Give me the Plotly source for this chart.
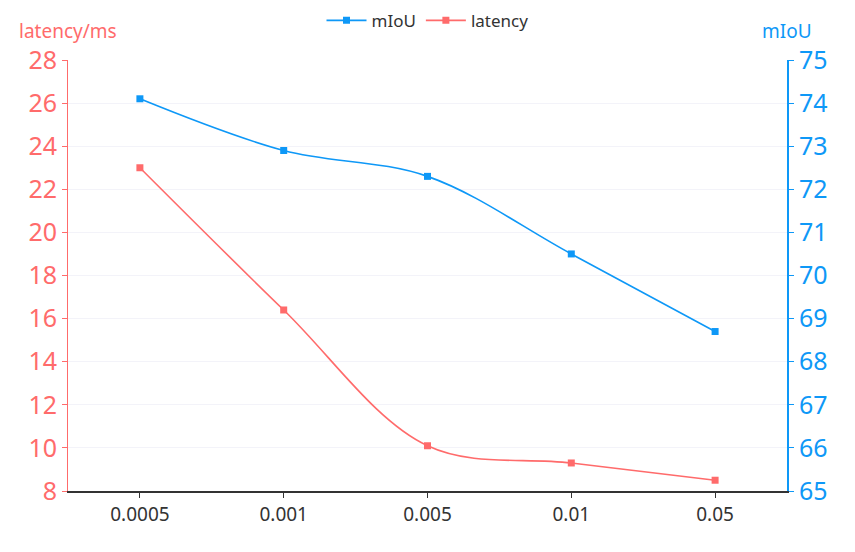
import plotly.graph_objects as go

categories = ["0.0005", "0.001", "0.005", "0.01", "0.05"]
miou = [74.1, 72.9, 72.3, 70.5, 68.7]
latency = [23.0, 16.4, 10.1, 9.3, 8.5]
latency_ticks = [8, 10, 12, 14, 16, 18, 20, 22, 24, 26, 28]
miou_ticks = [65, 66, 67, 68, 69, 70, 71, 72, 73, 74, 75]

BLUE = "#0e98f7"
RED = "#ff6b6b"
FONT = "Noto Sans, Roboto, sans-serif"

fig = go.Figure()
fig.add_trace(go.Scatter(
    x=categories, y=miou, name="mIoU", yaxis="y2",
    mode="lines+markers", line=dict(color=BLUE, width=1.6, shape="spline"),
    marker=dict(symbol="square", size=7, color=BLUE),
))
fig.add_trace(go.Scatter(
    x=categories, y=latency, name="latency", yaxis="y",
    mode="lines+markers", line=dict(color=RED, width=1.6, shape="spline"),
    marker=dict(symbol="square", size=7, color=RED),
))

fig.update_layout(
    width=847, height=544,
    margin=dict(l=60, r=68, t=52, b=61, autoexpand=False),
    paper_bgcolor="white", plot_bgcolor="white",
    font=dict(family=FONT),
    showlegend=True,
    legend=dict(orientation="h", x=0.5, xanchor="center", y=1.091, yanchor="middle",
                yref="paper", font=dict(size=17, color="#333"),
                bgcolor="rgba(0,0,0,0)", itemwidth=40),
    xaxis=dict(
        type="category", range=[-0.5, 4.5],
        showline=True, linecolor="#333", linewidth=2,
        ticks="outside", ticklen=5, tickcolor="#333",
        tickfont=dict(size=19, color="#333"),
        showgrid=False, zeroline=False,
    ),
    yaxis=dict(
        range=[8, 28], tickvals=latency_ticks,
        showline=True, linecolor=RED, linewidth=1,
        ticks="outside", ticklen=5, tickcolor=RED,
        tickfont=dict(size=25, color=RED),
        showgrid=True, gridcolor="#f3f3f9", gridwidth=1, zeroline=False,
    ),
    yaxis2=dict(
        range=[65, 75], tickvals=miou_ticks, overlaying="y", side="right",
        showline=True, linecolor=BLUE, linewidth=2,
        ticks="outside", ticklen=5, tickcolor=BLUE,
        tickfont=dict(size=25, color=BLUE),
        showgrid=False, zeroline=False,
    ),
    annotations=[
        dict(text="latency/ms", x=0, xref="paper", y=1, yref="paper",
             xanchor="center", yanchor="bottom", yshift=14, showarrow=False,
             font=dict(size=19, color=RED)),
        dict(text="mIoU", x=1, xref="paper", y=1, yref="paper",
             xanchor="center", yanchor="bottom", yshift=14, showarrow=False,
             font=dict(size=19, color=BLUE)),
    ],
)

fig.write_html("out.html")
